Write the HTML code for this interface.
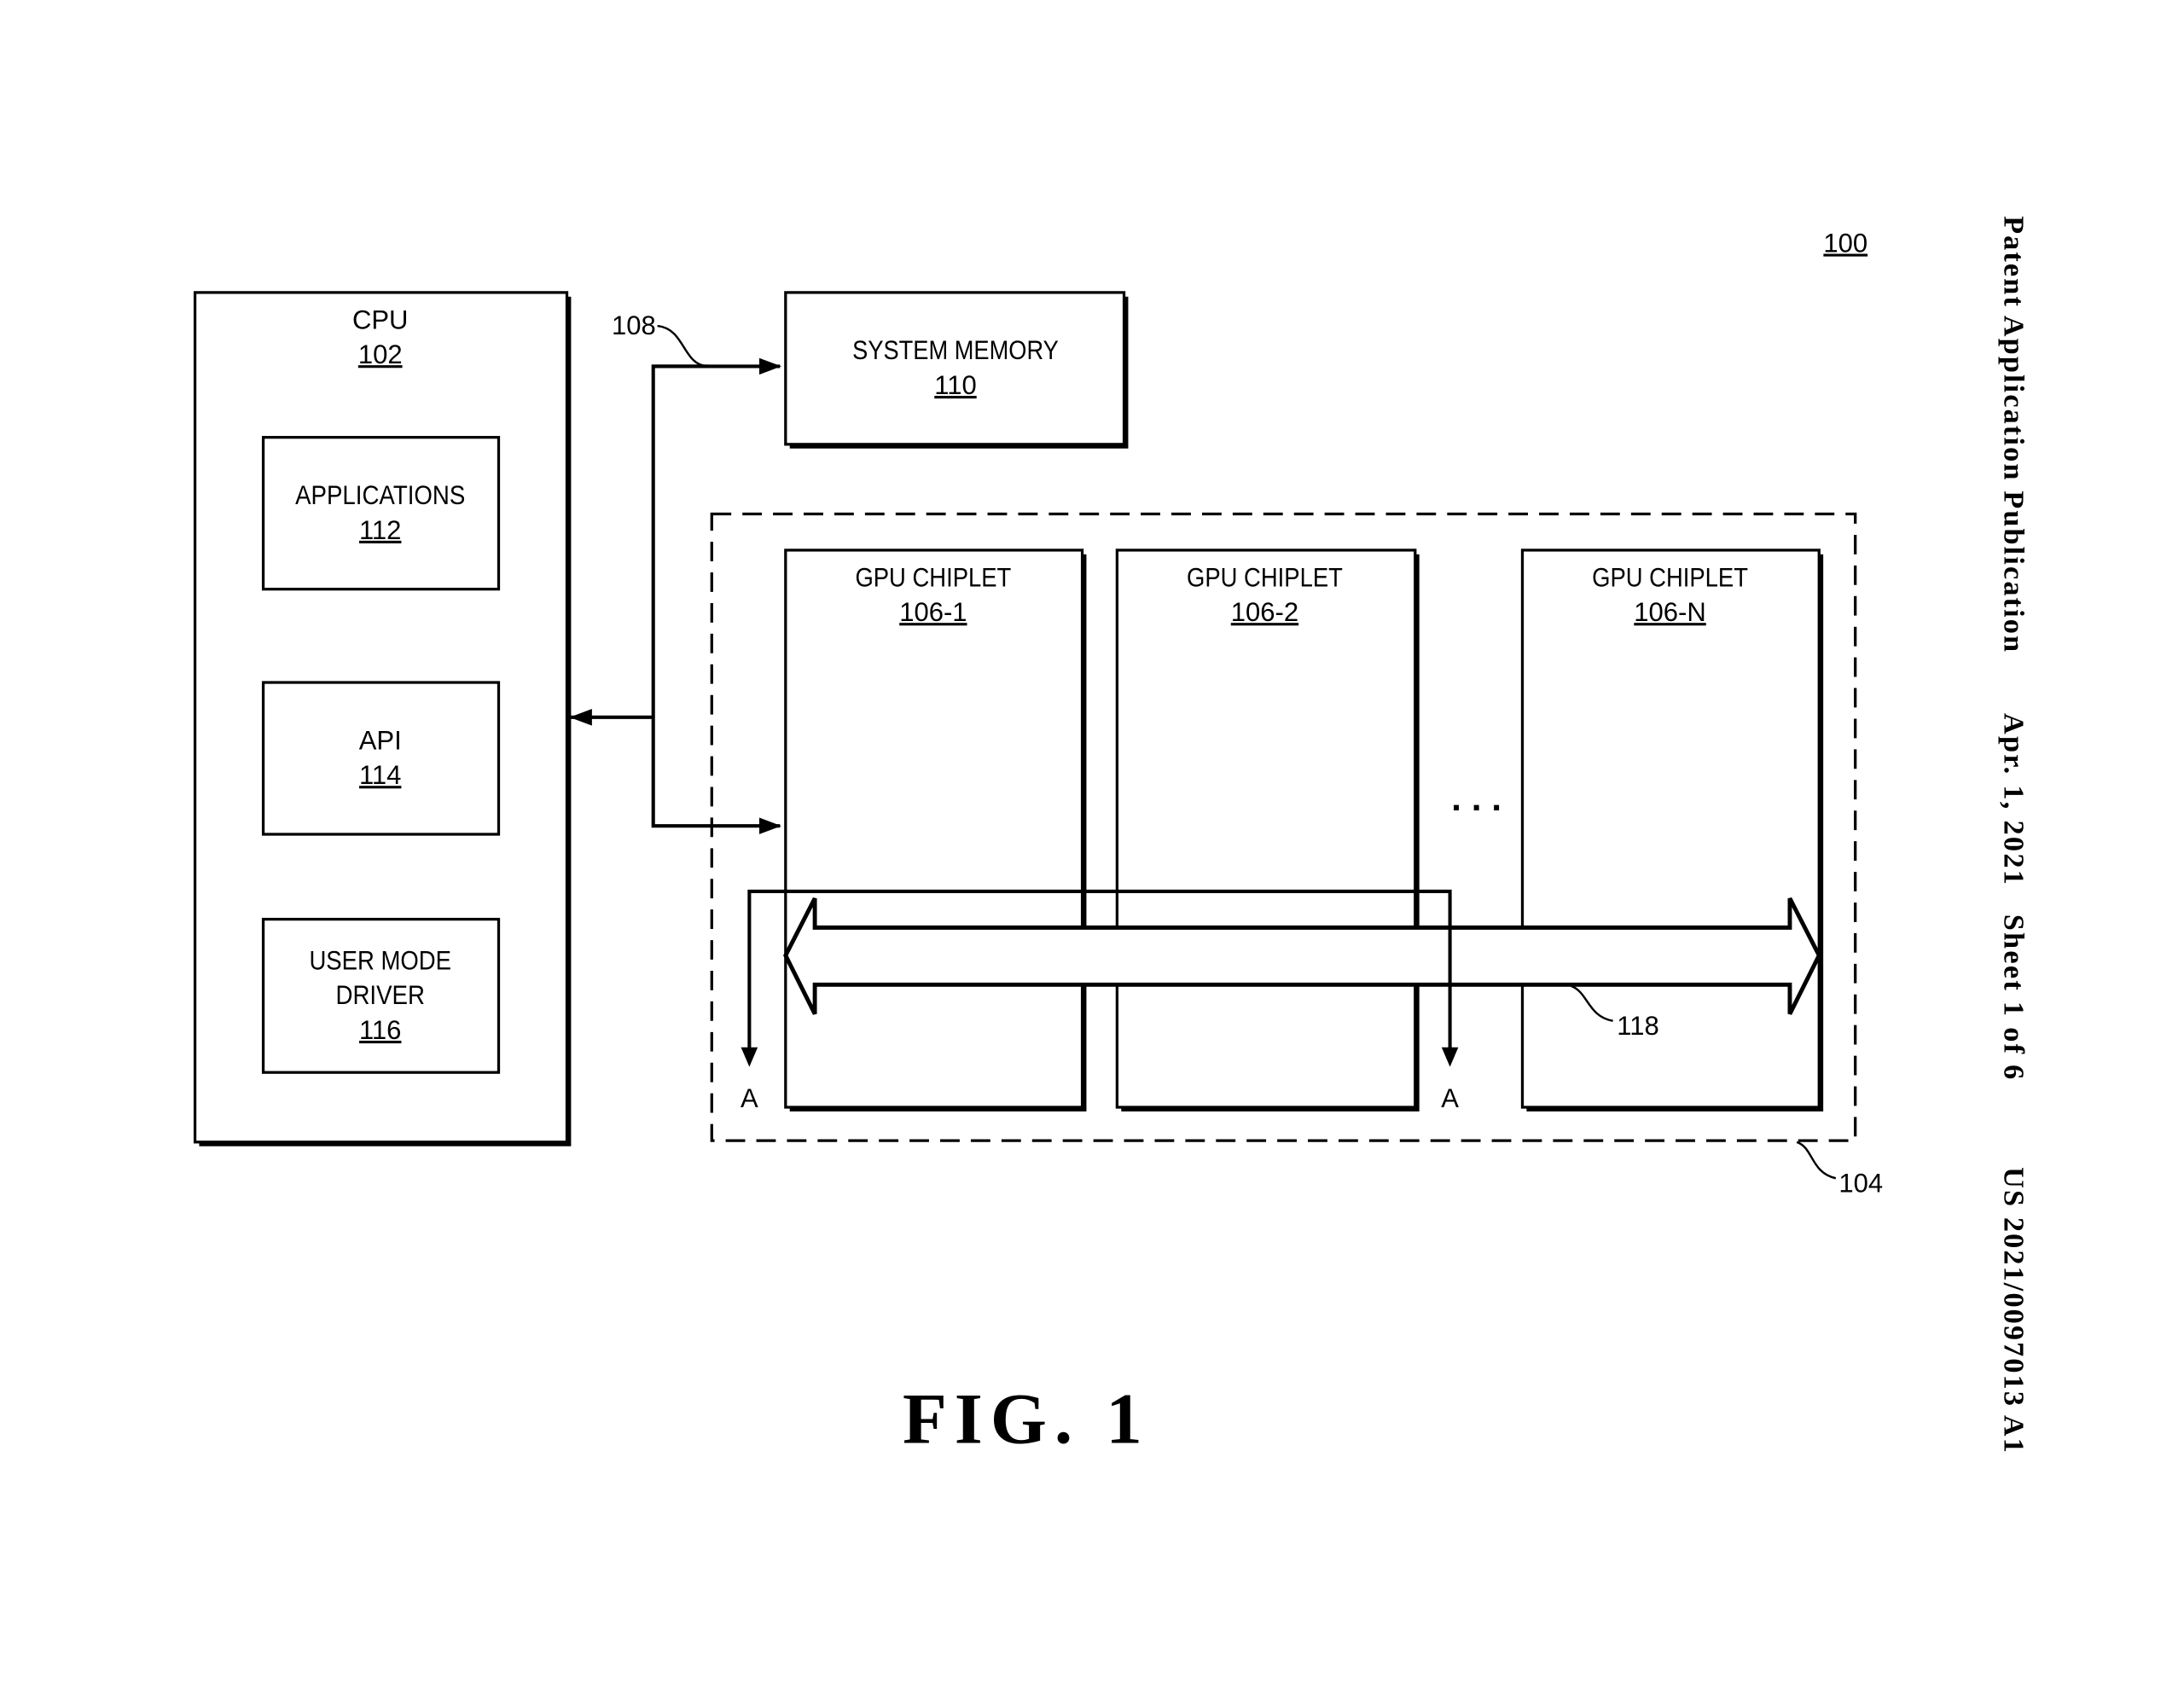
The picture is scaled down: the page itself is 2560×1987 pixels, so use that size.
<!DOCTYPE html>
<html><head><meta charset="utf-8"><style>html,body{margin:0;padding:0;background:#fff}svg{display:block}</style></head>
<body>
<svg width="2560" height="1987" viewBox="0 0 1568 1217" xmlns="http://www.w3.org/2000/svg" font-family="Liberation Sans, sans-serif">
<defs>
<marker id="ah2" markerWidth="16" markerHeight="12" refX="15" refY="6" orient="auto" markerUnits="userSpaceOnUse"><path d="M0,0 L16,6 L0,12 Z" fill="#000"/></marker>
</defs>
<g stroke="#000" stroke-width="2" fill="#fff">
<g fill="#000" stroke="none">
<rect x="143" y="213" width="267" height="610"/>
<rect x="192" y="317" width="169" height="109"/>
<rect x="192" y="493" width="169" height="109"/>
<rect x="192" y="663" width="169" height="110"/>
<rect x="567" y="213" width="243" height="109"/>
<rect x="567" y="398" width="213" height="400"/>
<rect x="805" y="398" width="214" height="400"/>
<rect x="1096" y="398" width="213" height="400"/>
</g>
<rect x="140" y="210" width="267" height="610"/>
<rect x="189" y="314" width="169" height="109"/>
<rect x="189" y="490" width="169" height="109"/>
<rect x="189" y="660" width="169" height="110"/>
<rect x="564" y="210" width="243" height="109"/>
<rect x="511" y="369" width="821" height="450" fill="none" stroke-dasharray="14,8"/>
<rect x="564" y="395" width="213" height="400"/>
<rect x="802" y="395" width="214" height="400"/>
<rect x="1093" y="395" width="213" height="400"/>
<polyline points="508,263 469,263 469,593 560,593" fill="none" stroke-width="2.5" marker-end="url(#ah2)"/>
<line x1="469" y1="263" x2="560" y2="263" stroke-width="2.5" marker-end="url(#ah2)"/>
<line x1="469" y1="515" x2="410" y2="515" stroke-width="2.5" marker-end="url(#ah2)"/>
<path d="M564,686 L585,645 L585,666 L1285,666 L1285,645 L1306,686 L1285,728 L1285,707 L585,707 L585,728 Z" stroke-width="3"/>
<polyline points="538,762 538,640 1041,640 1041,762" fill="none" stroke-width="2.5"/>
<path d="M532,752 L538,766 L544,752 Z" fill="#000" stroke="none"/>
<path d="M1035,752 L1041,766 L1047,752 Z" fill="#000" stroke="none"/>
<path d="M472,234 C492,236 490,262 508,263" fill="none" stroke-width="1.5"/>
<path d="M1128,708 C1140,712 1140,730 1158,733" fill="none" stroke-width="1.5"/>
<path d="M1290,820 C1302,824 1300,842 1318,846" fill="none" stroke-width="1.5"/>
</g>
<g font-size="19" text-anchor="middle" fill="#000" lengthAdjust="spacingAndGlyphs">
<text x="273" y="236">CPU</text><text x="273" y="261" text-decoration="underline">102</text>
<text x="273" y="362" textLength="122" lengthAdjust="spacingAndGlyphs">APPLICATIONS</text><text x="273" y="387" text-decoration="underline">112</text>
<text x="273" y="538">API</text><text x="273" y="563" text-decoration="underline">114</text>
<text x="273" y="696" textLength="102" lengthAdjust="spacingAndGlyphs">USER MODE</text><text x="273" y="721" textLength="64" lengthAdjust="spacingAndGlyphs">DRIVER</text><text x="273" y="746" text-decoration="underline">116</text>
<text x="686" y="258" textLength="148" lengthAdjust="spacingAndGlyphs">SYSTEM MEMORY</text><text x="686" y="283" text-decoration="underline">110</text>
<text x="670" y="421" textLength="112" lengthAdjust="spacingAndGlyphs">GPU CHIPLET</text><text x="670" y="446" text-decoration="underline">106-1</text>
<text x="908" y="421" textLength="112" lengthAdjust="spacingAndGlyphs">GPU CHIPLET</text><text x="908" y="446" text-decoration="underline">106-2</text>
<text x="1199" y="421" textLength="112" lengthAdjust="spacingAndGlyphs">GPU CHIPLET</text><text x="1199" y="446" text-decoration="underline">106-N</text>
<text x="455" y="240">108</text>
<text x="1176" y="743">118</text>
<text x="1336" y="856">104</text>
<text x="1325" y="181" text-decoration="underline">100</text>
<text x="538" y="795">A</text><text x="1041" y="795">A</text>
<text x="1060" y="582" font-size="26" font-weight="bold">. . .</text>
</g>
<text x="648" y="1036" font-family="Liberation Serif, serif" font-weight="bold" font-size="52" textLength="172" lengthAdjust="spacing">FIG. 1</text>
<g font-family="Liberation Serif, serif" font-weight="bold" font-size="21" fill="#000" transform="translate(1439,0) rotate(90)">
<text x="155" y="0" textLength="313" lengthAdjust="spacing">Patent Application Publication</text>
<text x="512" y="0" textLength="263" lengthAdjust="spacing" xml:space="preserve">Apr. 1, 2021   Sheet 1 of 6</text>
<text x="838" y="0" textLength="205" lengthAdjust="spacing">US 2021/0097013 A1</text>
</g>
</svg>
</body></html>
